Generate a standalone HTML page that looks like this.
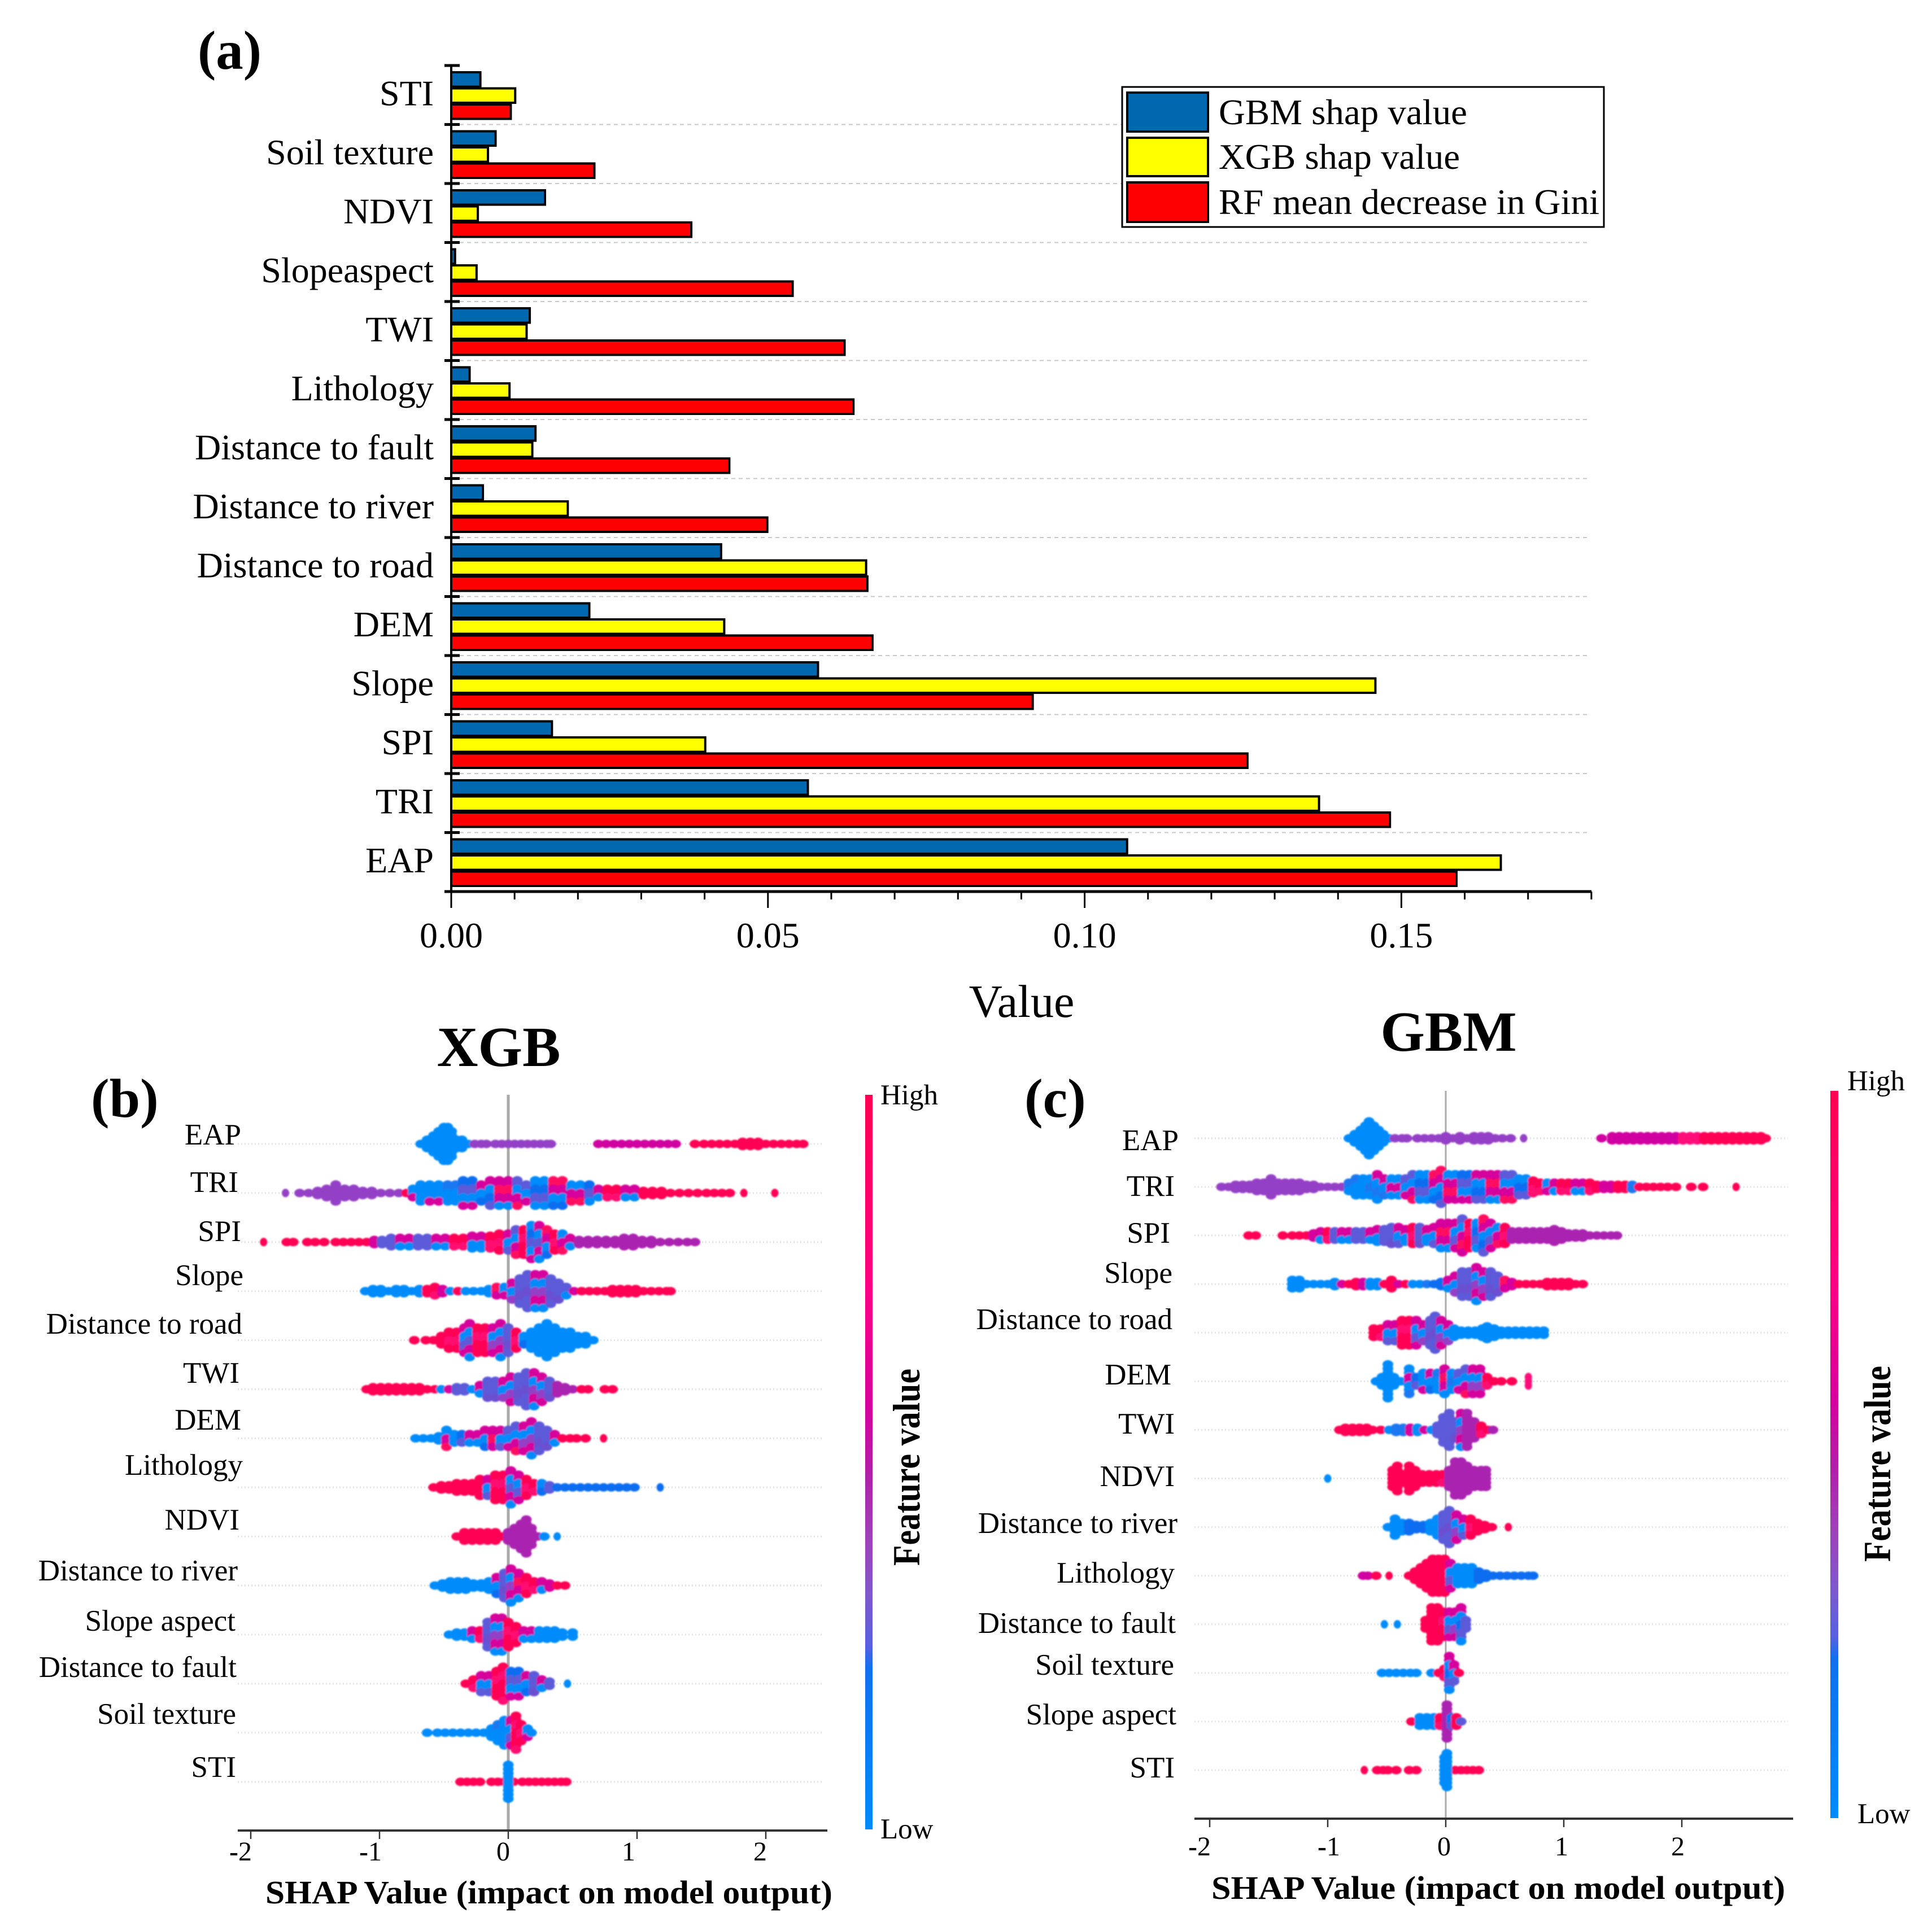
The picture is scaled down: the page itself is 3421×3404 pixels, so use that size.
<!DOCTYPE html>
<html lang="en">
<head>
<meta charset="utf-8">
<title>Feature importance and SHAP summary charts</title>
<style>
html,body{margin:0;padding:0;background:#fff;}
svg{display:block;}
text{font-family:"Liberation Serif",serif;fill:#000;}
</style>
</head>
<body>
<svg id="figure" width="3421" height="3404" viewBox="0 0 3421 3404">
  <defs>
    <linearGradient id="cbar" x1="0" y1="0" x2="0" y2="1">
      <stop offset="0" stop-color="#ff0051"/>
      <stop offset="0.25" stop-color="#ff0080"/>
      <stop offset="0.42" stop-color="#d8009c"/>
      <stop offset="0.52" stop-color="#b020a8"/>
      <stop offset="0.60" stop-color="#a040b8"/>
      <stop offset="0.68" stop-color="#8058cc"/>
      <stop offset="0.75" stop-color="#5860e0"/>
      <stop offset="0.78" stop-color="#1070f0"/>
      <stop offset="1" stop-color="#008bfb"/>
    </linearGradient>
    <filter id="soft" x="-2%" y="-2%" width="104%" height="104%"><feGaussianBlur stdDeviation="1.3"/></filter>
  </defs>
  <rect x="0" y="0" width="3421" height="3404" fill="#fff"/>

  <text x="350" y="122" font-size="97" font-weight="bold">(a)</text>
  <g id="a-grid"></g>
  <g id="a-bars"></g>
  <g id="a-axes"></g>
  <text x="1809" y="1801" font-size="82" text-anchor="middle">Value</text>

  <g>
    <rect x="1987" y="154" width="853" height="248" fill="#fff" stroke="#000" stroke-width="3"/>
    <rect x="1996" y="164" width="143" height="69" fill="#0068ae" stroke="#000" stroke-width="4"/>
    <rect x="1996" y="244" width="143" height="68" fill="#ffff00" stroke="#000" stroke-width="4"/>
    <rect x="1996" y="323" width="143" height="70" fill="#ff0000" stroke="#000" stroke-width="4"/>
    <text x="2158" y="220" font-size="64" textLength="440" lengthAdjust="spacingAndGlyphs">GBM shap value</text>
    <text x="2158" y="299" font-size="64" textLength="427" lengthAdjust="spacingAndGlyphs">XGB shap value</text>
    <text x="2158" y="379" font-size="64" textLength="674" lengthAdjust="spacingAndGlyphs">RF mean decrease in Gini</text>
  </g>

  <text x="883" y="1888" font-size="101" font-weight="bold" text-anchor="middle">XGB</text>
  <text x="2565" y="1861" font-size="101" font-weight="bold" text-anchor="middle">GBM</text>
  <text x="161" y="1978" font-size="98" font-weight="bold">(b)</text>
  <text x="1814" y="1978" font-size="98" font-weight="bold">(c)</text>

  <g id="b-chart"></g>
  <g id="c-chart"></g>

  <g font-size="53" text-anchor="end">
    <text x="427" y="2027">EAP</text>
    <text x="422" y="2111">TRI</text>
    <text x="427" y="2198">SPI</text>
    <text x="431" y="2276">Slope</text>
    <text x="429" y="2362">Distance to road</text>
    <text x="424" y="2449">TWI</text>
    <text x="427" y="2532">DEM</text>
    <text x="430" y="2612">Lithology</text>
    <text x="424" y="2709">NDVI</text>
    <text x="421" y="2799">Distance to river</text>
    <text x="417" y="2888">Slope aspect</text>
    <text x="419" y="2970">Distance to fault</text>
    <text x="418" y="3053">Soil texture</text>
    <text x="418" y="3147">STI</text>
  </g>
  <g font-size="53" text-anchor="end">
    <text x="2087" y="2037">EAP</text>
    <text x="2080" y="2118">TRI</text>
    <text x="2072" y="2201">SPI</text>
    <text x="2076" y="2272">Slope</text>
    <text x="2076" y="2354">Distance to road</text>
    <text x="2074" y="2452">DEM</text>
    <text x="2080" y="2539">TWI</text>
    <text x="2080" y="2632">NDVI</text>
    <text x="2085" y="2715">Distance to river</text>
    <text x="2080" y="2803">Lithology</text>
    <text x="2082" y="2892">Distance to fault</text>
    <text x="2079" y="2966">Soil texture</text>
    <text x="2083" y="3054">Slope aspect</text>
    <text x="2080" y="3148">STI</text>
  </g>

  <g font-size="48" text-anchor="end">
    <text x="446" y="3295"><tspan font-weight="bold">-</tspan>2</text>
    <text x="676" y="3295"><tspan font-weight="bold">-</tspan>1</text>
    <text x="903" y="3295">0</text>
    <text x="1125" y="3295">1</text>
    <text x="1358" y="3295">2</text>
  </g>
  <g font-size="48" text-anchor="end">
    <text x="2144" y="3286"><tspan font-weight="bold">-</tspan>2</text>
    <text x="2373" y="3286"><tspan font-weight="bold">-</tspan>1</text>
    <text x="2569" y="3286">0</text>
    <text x="2777" y="3286">1</text>
    <text x="2983" y="3286">2</text>
  </g>
  <text x="470" y="3371" font-size="58" font-weight="bold" textLength="1004" lengthAdjust="spacingAndGlyphs">SHAP Value (impact on model output)</text>
  <text x="2145" y="3363" font-size="58" font-weight="bold" textLength="1016" lengthAdjust="spacingAndGlyphs">SHAP Value (impact on model output)</text>

  <rect x="1532" y="1939" width="13" height="1301" fill="url(#cbar)"/>
  <rect x="3241" y="1932" width="14" height="1288" fill="url(#cbar)"/>
  <text x="1559" y="1956" font-size="51">High</text>
  <text x="1559" y="3256" font-size="51">Low</text>
  <text x="3271" y="1931" font-size="51">High</text>
  <text x="3289" y="3229" font-size="51">Low</text>
  <text transform="translate(1628,2773) rotate(-90)" font-size="68" font-weight="bold" textLength="349" lengthAdjust="spacingAndGlyphs">Feature value</text>
  <text transform="translate(3347,2766) rotate(-90)" font-size="68" font-weight="bold" textLength="347" lengthAdjust="spacingAndGlyphs">Feature value</text>
</svg>

<script>
/* ---------- Panel (a) data ---------- */
const barCategories = ['STI','Soil texture','NDVI','Slopeaspect','TWI','Lithology','Distance to fault','Distance to river','Distance to road','DEM','Slope','SPI','TRI','EAP'];
const gbmShapValues = [.0046,.0070,.0148,.0006,.0124,.0029,.0133,.0050,.0426,.0218,.0579,.0159,.0563,.1067];
const xgbShapValues = [.0101,.0058,.0042,.0040,.0119,.0092,.0128,.0184,.0655,.0431,.1459,.0401,.1370,.1657];
const rfGiniValues = [.0094,.0226,.0379,.0539,.0621,.0635,.0439,.0499,.0657,.0665,.0918,.1257,.1482,.1587];
const barMajorTicks = [0,.05,.10,.15];
const barMajorLabels = ['0.00','0.05','0.10','0.15'];
const barMinorTicks = [.01,.02,.03,.04,.06,.07,.08,.09,.11,.12,.13,.14,.16,.17,.18];

/* ---------- Beeswarm data: column shap value, stack half-count, feature-value band ---------- */
const shapTicks = [-2,-1,0,1,2];

const xgbEAPShap = [-.68,-.63,-.58,-.54,-.50,-.47,-.44,-.40,-.36,-.31,-.26,-.21,-.17,-.10,-.05,0,.05,.10,.15,.20,.25,.30,.33,.70,.76,.82,.88,.94,1.00,1.06,1.12,1.18,1.24,1.30,1.45,1.52,1.58,1.64,1.70,1.76,1.82,1.88,1.94,2.00,2.06,2.12,2.18,2.24,2.29];
const xgbEAPStack = [0,1,2,3,4,4,3,1,1,0,0,0,0,0,0,0,0,0,0,0,0,0,0,0,0,0,0,0,0,0,0,0,0,0,0,0,0,0,0,0,.5,.5,.5,0,0,0,0,0,0];
const xgbEAPBand = 'bbbbbbbbbb'+'ppppppppppppp'+'mmmmmmmmmmm'+'rrrrrrrrrrrrrrr';

const xgbTRIShap = [-1.73,-1.62,-1.55,-1.48,-1.41,-1.34,-1.27,-1.20,-1.13,-1.06,-.99,-.92,-.85,-.79,-.74,-.68,-.61,-.54,-.47,-.41,-.35,-.28,-.21,-.14,-.07,0,.07,.14,.21,.28,.35,.42,.49,.56,.63,.70,.77,.84,.91,.98,1.05,1.12,1.19,1.26,1.33,1.40,1.47,1.54,1.60,1.66,1.72,1.83,2.07];
const xgbTRIStack = [0,0,0,.5,1,2,1,1,.5,.5,0,0,0,0,1,2,2,2,2,2,3,3,2,3,3,3,3,2,3,3,3,3,2,2,2,1,1,1,1,1,.5,.5,.5,0,0,0,0,0,0,0,0,0,0];
const xgbTRIBand = 'ppppppppppppp'+'r'+'ubuuuu'+'xxxxxxxxxxxxxxx'+'yyyyyy'+'rrrrrrrrrrrr';

const xgbSPIShap = [-1.90,-1.72,-1.67,-1.56,-1.50,-1.43,-1.34,-1.28,-1.22,-1.16,-1.10,-1.04,-.98,-.91,-.84,-.77,-.70,-.63,-.56,-.49,-.42,-.35,-.28,-.21,-.14,-.07,0,.06,.12,.18,.24,.30,.36,.42,.48,.55,.62,.69,.76,.83,.90,.97,1.04,1.11,1.18,1.25,1.32,1.39,1.45];
const xgbSPIStack = [0,0,0,0,0,0,0,0,0,0,0,.5,.5,1,1,1,1,1,1,1,1,1,1.5,1.5,1.5,2,2,3,3,4,4,3,2,2,1,.5,.5,.5,.5,.5,1,1,.5,.5,0,0,0,0,0];
const xgbSPIBand = 'rrrrrrrrrrr'+'y'+'zzzzzz'+'y'+'z'+'yyyyyyy'+'xyxyxyx'+'z'+'PPPPPPPPP'+'PPPPP';

const xgbSlopeShap = [-1.11,-1.05,-.99,-.93,-.87,-.81,-.75,-.69,-.63,-.57,-.51,-.45,-.39,-.33,-.27,-.21,-.15,-.09,-.03,.03,.09,.15,.21,.27,.33,.39,.45,.51,.57,.63,.69,.75,.81,.87,.93,.99,1.05,1.11,1.17,1.23,1.26];
const xgbSlopeStack = [0,.5,.5,0,.5,.5,0,.5,.5,1,.5,0,0,0,0,0,.5,1,1,2,3,4,4,4,3,2,1,0,0,0,0,0,.5,.5,.5,.5,0,0,0,0,0];
const xgbSlopeBand = 'bbbbbbbb'+'yyxbrbbuuxx'+'zzzzzzz'+'xy'+'rrrrrrrrrrrrr';

const xgbRoadShap = [-.73,-.64,-.58,-.52,-.46,-.40,-.34,-.30,-.24,-.18,-.12,-.06,0,.06,.12,.18,.24,.30,.36,.42,.48,.54,.60,.66];
const xgbRoadStack = [0,0,0,1,2,2,3,4,3,3,3,4,3,2,1,2,3,4,3,2,2,1,1,0];
const xgbRoadBand = 'rrrr'+'yyyyyy'+'zzz'+'y'+'x'+'bbbbbbbbb';

const xgbTWIShap = [-1.10,-1.05,-.99,-.93,-.87,-.81,-.75,-.69,-.63,-.57,-.52,-.46,-.40,-.34,-.28,-.22,-.16,-.10,-.04,.02,.08,.14,.20,.26,.32,.38,.44,.50,.57,.62,.75,.81];
const xgbTWIStack = [0,.5,.5,.5,.5,.5,.5,.5,0,0,0,0,.5,.5,0,1,2,2,2,3,3,4,4,3,2,1,.5,0,0,0,0,0];
const xgbTWIBand = 'rrrrrrrrrr'+'bxzxu'+'zzzzzzzzzz'+'PPP'+'rrrr';

const xgbDEMShap = [-.72,-.66,-.60,-.54,-.48,-.42,-.36,-.30,-.24,-.18,-.12,-.06,0,.06,.12,.18,.24,.30,.36,.42,.48,.53,.60,.74];
const xgbDEMStack = [0,0,0,.5,2,1,1,1,1,2,2,2,2,3,3,4,3,2,1,0,0,0,0,0];
const xgbDEMBand = 'bbbb'+'xbxyxxxyxx'+'zzzz'+'y'+'rrrrr';

const xgbLithShap = [-.58,-.52,-.46,-.40,-.34,-.28,-.22,-.16,-.10,-.04,.02,.08,.14,.20,.26,.32,.38,.44,.50,.56,.62,.68,.74,.80,.86,.92,.98,1.18];
const xgbLithStack = [0,.5,.5,1,1,1,2,2,3,3,4,3,2,1,1,.5,0,0,0,0,0,0,0,0,0,0,0,0];
const xgbLithBand = 'rrrrrrr'+'yyyyyyy'+'x'+'v'+'BBBBBBBBBBBB';

const xgbNDVIShap = [-.40,-.34,-.28,-.22,-.16,-.10,-.05,0,.05,.10,.14,.18,.23,.28,.38];
const xgbNDVIStack = [0,1,1,1,1,1,0,1,2,3,4,2,0,0,0];
const xgbNDVIBand = 'rrrrrrr'+'PPPPPP'+'bb';

const xgbRiverShap = [-.57,-.51,-.45,-.39,-.33,-.27,-.21,-.15,-.09,-.03,.02,.08,.14,.20,.26,.32,.38,.44];
const xgbRiverStack = [0,.5,1,1,1,.5,.5,1,2,3,4,3,2,1,1,.5,0,0];
const xgbRiverBand = 'bbbbbbb'+'u'+'x'+'zz'+'x'+'yyyy'+'rr';

const xgbAspectShap = [-.46,-.40,-.34,-.28,-.22,-.16,-.10,-.05,0,.06,.12,.18,.24,.30,.36,.42,.50];
const xgbAspectStack = [0,.5,.5,1,1,3,4,4,3,2,1,1,1,1,1,.5,.5];
const xgbAspectBand = 'bbb'+'yy'+'zzz'+'yyyy'+'bbbbb';

const xgbFaultShap = [-.33,-.27,-.21,-.15,-.09,-.04,.02,.08,.14,.20,.26,.32,.46];
const xgbFaultStack = [0,1,2,2,3,4,3,3,2,2,1,.5,0];
const xgbFaultBand = 'r'+'yyyyy'+'xxx'+'zz'+'v'+'b';

const xgbSoilShap = [-.63,-.55,-.49,-.43,-.37,-.31,-.25,-.19,-.13,-.08,-.03,.02,.06,.10,.15,.18];
const xgbSoilStack = [0,0,0,0,0,0,0,0,1,2,3,3,4,2,1,0];
const xgbSoilBand = 'bbbbbbb'+'ubub'+'yyy'+'ub';

const xgbSTIShap = [-.37,-.32,-.27,-.22,-.13,-.08,-.03,.04,.11,.16,.21,.26,.31,.36,.41,.45,0];
const xgbSTIStack = [0,0,0,0,0,0,0,0,0,0,0,0,0,0,0,0,4];
const xgbSTIBand = 'rrrrrrrrrrrrrrrr'+'b';

const gbmEAPShap = [-.82,-.77,-.72,-.68,-.65,-.61,-.57,-.53,-.48,-.43,-.37,-.33,-.24,-.18,-.12,-.06,0,.06,.12,.18,.24,.30,.36,.42,.48,.55,.66,1.32,1.41,1.47,1.53,1.59,1.65,1.71,1.77,1.83,1.89,1.95,2.01,2.07,2.13,2.19,2.25,2.31,2.37,2.43,2.49,2.55,2.61,2.67,2.71];
const gbmEAPStack = [0,1,2,3,4,3,2,1,0,0,0,0,0,0,0,0,.5,0,.5,0,.5,.5,.5,0,0,0,0,0,.5,.5,.5,.5,.5,.5,.5,.5,.5,.5,.5,.5,.5,.5,.5,.5,.5,.5,.5,.5,.5,.5,0];
const gbmEAPBand = 'bbbbbbbbb'+'pppppppppppppppppp'+'mmmmmmmmmmm'+'RRR'+'rrrrrrrrrr';

const gbmTRIShap = [-1.90,-1.84,-1.78,-1.72,-1.66,-1.60,-1.54,-1.48,-1.42,-1.36,-1.30,-1.24,-1.18,-1.12,-1.06,-1.00,-.94,-.88,-.82,-.76,-.70,-.64,-.58,-.52,-.46,-.40,-.34,-.28,-.22,-.16,-.10,-.04,.02,.08,.14,.20,.26,.32,.38,.44,.50,.56,.62,.68,.74,.80,.86,.92,.98,1.04,1.10,1.16,1.22,1.28,1.34,1.40,1.46,1.52,1.58,1.64,1.70,1.76,1.82,1.88,1.95,2.08,2.18,2.46];
const gbmTRIStack = [0,0,.5,.5,.5,1,1,2,1,1,1,1,.5,.5,0,0,0,0,1,2,2,2,3,2,2,2,2,3,3,3,3,4,3,3,3,3,3,3,3,3,3,3,2,2,1.5,1,1,1,1,1,1,1,1,.5,.5,.5,.5,.5,.5,0,0,0,0,0,0,0,0,0];
const gbmTRIBand = 'pppppppppppppppppp'+'uubuuuuu'+'xxxxxxxxxxxxxxxxxx'+'yyx'+'yyyyyyyyyy'+'y'+'u'+'rrrrrrrrr';

const gbmSPIShap = [-1.67,-1.61,-1.38,-1.30,-1.24,-1.18,-1.12,-1.06,-1.00,-.94,-.88,-.82,-.76,-.70,-.64,-.58,-.52,-.46,-.40,-.34,-.28,-.22,-.16,-.10,-.04,.02,.08,.14,.20,.26,.32,.38,.44,.50,.56,.62,.68,.74,.80,.86,.92,.98,1.04,1.10,1.16,1.22,1.28,1.34,1.40,1.45];
const gbmSPIStack = [0,0,0,0,0,0,.5,1,1,1,1,1,1,1,1,1.5,1.5,2,2,1.5,2,2,1.5,2,3,3,3,4,3,3,4,3,2,2,1,1,1,1,1,1,1.5,1,.5,.5,.5,0,0,0,0,0];
const gbmSPIBand = 'rrrrrr'+'yzy'+'zzzzzz'+'zzz'+'yzyzzy'+'xxyxyxxyxy'+'PPPPPPPPPPP'+'PPPPP';

const gbmSlopeShap = [-1.30,-1.24,-1.18,-1.12,-1.06,-1.00,-.94,-.88,-.82,-.76,-.70,-.64,-.58,-.52,-.46,-.40,-.34,-.28,-.22,-.16,-.10,-.04,.02,.08,.14,.20,.26,.32,.38,.44,.50,.56,.62,.68,.74,.80,.86,.92,.98,1.04,1.10,1.16];
const gbmSlopeStack = [1,1,0,0,0,0,.5,0,0,.5,.5,.5,.5,0,1,0,0,0,0,0,0,.5,1,2,3,3,4,3,3,2,1,.5,0,0,0,0,.5,.5,.5,.5,0,0];
const gbmSlopeBand = 'bbbbbbb'+'yryybbyryrbxuxx'+'zzzzzzzz'+'xy'+'rrrrrrrrrr';

const gbmRoadShap = [-.61,-.55,-.49,-.43,-.37,-.31,-.25,-.19,-.13,-.09,-.04,.02,.07,.13,.19,.25,.31,.35,.41,.47,.53,.59,.65,.71,.77,.83];
const gbmRoadStack = [1,1,2,2,3,3,3,2,3,4,3,2,1,.5,.5,.5,1,1.5,1,.5,.5,.5,.5,.5,.5,.5];
const gbmRoadBand = 'r'+'yyyyyy'+'zzzzz'+'bbbbbbbbbbbbbb';

const gbmDEMShap = [-.59,-.54,-.49,-.44,-.38,-.31,-.25,-.19,-.13,-.07,-.01,.05,.11,.17,.23,.29,.35,.41,.47,.56,.70];
const gbmDEMStack = [0,1,4,1,0,3,1,2,2,2,3,2,2,3,3,3,1,0,0,0,1];
const gbmDEMBand = 'bbbb'+'uuxuxuxuxx'+'zz'+'y'+'rrr'+'R';

const gbmTWIShap = [-.90,-.85,-.79,-.73,-.67,-.62,-.55,-.48,-.42,-.36,-.30,-.24,-.18,-.12,-.07,-.02,.03,.08,.13,.18,.24,.30,.36,.40];
const gbmTWIStack = [0,.5,.5,.5,.5,0,0,0,.5,.5,.5,.5,0,0,1,3,4,2,4,4,2,1,0,0];
const gbmTWIBand = 'rrrrrrr'+'buuxbub'+'vvv'+'zz'+'PP'+'y'+'r'+'P';

const gbmNDVIShap = [-1.00,-.45,-.41,-.36,-.31,-.26,-.20,-.14,-.08,-.03,.03,.08,.13,.18,.24,.30,.34];
const gbmNDVIStack = [0,2,3,1,3,2,1,1,1,1,2,4,4,3,2,2,2];
const gbmNDVIBand = 'b'+'rrrrrrrr'+'y'+'PPPPPPP';

const gbmRiverShap = [-.49,-.43,-.37,-.31,-.25,-.19,-.13,-.07,-.02,.03,.09,.15,.21,.27,.33,.39,.53];
const gbmRiverStack = [0,2,1,1,.5,.5,1,2,3,4,3,2,2,1,.5,0,0];
const gbmRiverBand = 'bbb'+'BBB'+'bb'+'zzz'+'yy'+'rrrr';

const gbmLithShap = [-.70,-.66,-.59,-.48,-.31,-.26,-.21,-.16,-.11,-.06,-.01,.04,.10,.16,.22,.28,.34,.40,.46,.52,.58,.64,.70,.74];
const gbmLithStack = [0,0,0,0,0,1,2,3,4,4,4,3,2,2,2,1,.5,0,0,0,0,0,0,0];
const gbmLithBand = 'mm'+'rr'+'rrrrrrr'+'y'+'bbb'+'BBBBBBBBB';

const gbmFaultShap = [-.52,-.41,-.17,-.12,-.07,-.02,.03,.08,.13,.17];
const gbmFaultStack = [0,0,1,4,4,3,3,3,4,1];
const gbmFaultBand = 'bb'+'rrr'+'yy'+'z'+'x'+'z';

const gbmSoilShap = [-.54,-.48,-.42,-.36,-.30,-.25,-.12,-.06,-.01,.03,.07,.11];
const gbmSoilStack = [0,0,0,0,0,0,0,0,1,4,2,0];
const gbmSoilBand = 'bbbbbbb'+'r'+'y'+'x'+'y'+'r';

const gbmAspectShap = [-.29,-.22,-.16,-.10,-.05,.01,.05,.09,.13];
const gbmAspectStack = [0,1,1,1,1,4,1,1,0];
const gbmAspectBand = 'r'+'bbb'+'y'+'P'+'x'+'r'+'v';

const gbmSTIShap = [-.69,-.58,-.53,-.49,-.42,-.31,-.25,.08,.13,.18,.23,.28,-.01,.01];
const gbmSTIStack = [0,0,0,0,0,0,0,0,0,0,0,0,3,4];
const gbmSTIBand = 'rrrrrrrrrrrr'+'bb';

const xgbRows = [
  [xgbEAPShap,xgbEAPStack,xgbEAPBand],[xgbTRIShap,xgbTRIStack,xgbTRIBand],[xgbSPIShap,xgbSPIStack,xgbSPIBand],
  [xgbSlopeShap,xgbSlopeStack,xgbSlopeBand],[xgbRoadShap,xgbRoadStack,xgbRoadBand],[xgbTWIShap,xgbTWIStack,xgbTWIBand],
  [xgbDEMShap,xgbDEMStack,xgbDEMBand],[xgbLithShap,xgbLithStack,xgbLithBand],[xgbNDVIShap,xgbNDVIStack,xgbNDVIBand],
  [xgbRiverShap,xgbRiverStack,xgbRiverBand],[xgbAspectShap,xgbAspectStack,xgbAspectBand],[xgbFaultShap,xgbFaultStack,xgbFaultBand],
  [xgbSoilShap,xgbSoilStack,xgbSoilBand],[xgbSTIShap,xgbSTIStack,xgbSTIBand]
];
const gbmRows = [
  [gbmEAPShap,gbmEAPStack,gbmEAPBand],[gbmTRIShap,gbmTRIStack,gbmTRIBand],[gbmSPIShap,gbmSPIStack,gbmSPIBand],
  [gbmSlopeShap,gbmSlopeStack,gbmSlopeBand],[gbmRoadShap,gbmRoadStack,gbmRoadBand],[gbmDEMShap,gbmDEMStack,gbmDEMBand],
  [gbmTWIShap,gbmTWIStack,gbmTWIBand],[gbmNDVIShap,gbmNDVIStack,gbmNDVIBand],[gbmRiverShap,gbmRiverStack,gbmRiverBand],
  [gbmLithShap,gbmLithStack,gbmLithBand],[gbmFaultShap,gbmFaultStack,gbmFaultBand],[gbmSoilShap,gbmSoilStack,gbmSoilBand],
  [gbmAspectShap,gbmAspectStack,gbmAspectBand],[gbmSTIShap,gbmSTIStack,gbmSTIBand]
];

/* ---------- Drawing ---------- */
const NS = document.getElementById('figure').namespaceURI;
function make(tag, parent, props) {
  const el = document.createElementNS(NS, tag);
  for (const key in props) el.setAttribute(key, props[key]);
  parent.appendChild(el);
  return el;
}

/* Panel (a) scales */
const barX = v => 799 + v * 11216;
const barBandTop = i => 116 + i * 104.5;

const aGrid = document.getElementById('a-grid');
const aBars = document.getElementById('a-bars');
const aAxes = document.getElementById('a-axes');

barCategories.forEach((name, i) => {
  const top = barBandTop(i);
  if (i > 0) {
    const grid = make('line', aGrid, {x1:814, x2:2814, y1:top, y2:top, stroke:'#c8c8c8', 'stroke-width':2, 'stroke-dasharray':'7 6'});
    
    
  }
  const series = [[gbmShapValues[i], '#0068ae'], [xgbShapValues[i], '#ffff00'], [rfGiniValues[i], '#ff0000']];
  series.forEach((entry, k) => {
    const rect = make('rect', aBars, {x:799, y:top + 12 + k * 28.5, width:Math.max(barX(entry[0]) - 799, 1), height:25.5, fill:entry[1], stroke:'#000', 'stroke-width':4});
    
    
  });
  const label = make('text', aAxes, {x:768, y:top + 70.5, 'font-size':64, 'text-anchor':'end'});
  label.textContent = name;
  
  
});

for (let i = 0; i <= barCategories.length; i++) {
  const tick = make('line', aAxes, {x1:787, x2:814, y1:barBandTop(i), y2:barBandTop(i), stroke:'#000', 'stroke-width':5});
  
  
}
const aYAxis = make('line', aAxes, {x1:799, x2:799, y1:114, y2:1581, stroke:'#000', 'stroke-width':4});


const aXAxis = make('line', aAxes, {x1:787, x2:2818, y1:1579, y2:1579, stroke:'#000', 'stroke-width':5});


barMinorTicks.forEach(v => {
  const tick = make('line', aAxes, {x1:barX(v), x2:barX(v), y1:1579, y2:1593, stroke:'#000', 'stroke-width':3});
  
  
});
barMajorTicks.forEach((v, i) => {
  const tick = make('line', aAxes, {x1:barX(v), x2:barX(v), y1:1579, y2:1608, stroke:'#000', 'stroke-width':3});
  
  
  const label = make('text', aAxes, {x:barX(v), y:1678, 'font-size':64, 'text-anchor':'middle'});
  label.textContent = barMajorLabels[i];
  
  
});

/* Beeswarm panels */
const bandSolid = {b:'#008bfb', B:'#0b6df0', v:'#5b5ad9', p:'#9440c6', P:'#aa22b0', m:'#d000a0', r:'#ff0055', R:'#ff0a7a'};
const bandMixed = {
  x:['#008bfb','#d6009c','#0b6df0','#ff0a60','#5b5ad9','#d6009c','#008bfb'],
  u:['#008bfb','#008bfb','#1a78f0','#d6009c','#008bfb'],
  y:['#ff0055','#5b5ad9','#ff0a70','#d6009c','#ff0055','#008bfb'],
  z:['#5b5ad9','#9440c6','#5b5ad9','#d6009c','#6a50d0','#008bfb']
};
function bandColor(code, column, stackIndex) {
  if (bandSolid[code]) return bandSolid[code];
  const mix = bandMixed[code] || bandMixed.x;
  return mix[(Math.floor(column / 2) * 3 + Math.floor(stackIndex / 2) * 2) % mix.length];
}

function drawSwarm(group, rows, opts) {
  const sx = v => opts.zero + v * opts.unit;
  const sy = i => opts.firstRow + i * opts.rowStep;
  rows.forEach((row, i) => {
    const guide = make('line', group, {x1:opts.left, x2:opts.guideRight, y1:sy(i), y2:sy(i), stroke:'#e4e4e4', 'stroke-width':3, 'stroke-dasharray':'2 4'});
    
    
  });
  const zeroLine = make('line', group, {x1:sx(0), x2:sx(0), y1:opts.top, y2:opts.axisY, stroke:'#aaaaaa', 'stroke-width':opts.zeroWidth});
  
  
  const dots = make('g', group, {filter:'url(#soft)'});
  
  
  rows.forEach((row, i) => {
    const shap = row[0], stack = row[1], band = row[2];
    shap.forEach((value, c) => {
      const h = stack[c] === undefined ? 0 : stack[c];
      const code = band.charAt(Math.min(c, band.length - 1));
      const nearby = shap.some((other, o) => o !== c && Math.abs(sx(other) - sx(value)) < 22);
      const rx = nearby ? 9.5 : 6.5;
      for (let k = -h; k <= h; k++) {
        const dot = make('ellipse', dots, {cx:sx(value), cy:sy(i) + k * 7.5, rx:rx, ry:7.5, fill:bandColor(code, c, k + h)});
        
        
      }
    });
  });
  const axis = make('line', group, {x1:opts.left, x2:opts.right, y1:opts.axisY, y2:opts.axisY, stroke:'#333', 'stroke-width':4});
  
  
  shapTicks.forEach(t => {
    const tick = make('line', group, {x1:sx(t), x2:sx(t), y1:opts.axisY, y2:opts.axisY + 15, stroke:'#333', 'stroke-width':2.5});
    
    
  });
}

drawSwarm(document.getElementById('b-chart'), xgbRows, {zero:900, unit:228, firstRow:2026, rowStep:86.9, left:421, right:1465, guideRight:1458, top:1939, axisY:3242, zeroWidth:5});
drawSwarm(document.getElementById('c-chart'), gbmRows, {zero:2560, unit:209, firstRow:2016, rowStep:86.08, left:2115, right:3175, guideRight:3166, top:1932, axisY:3221, zeroWidth:3});
</script>
</body>
</html>
